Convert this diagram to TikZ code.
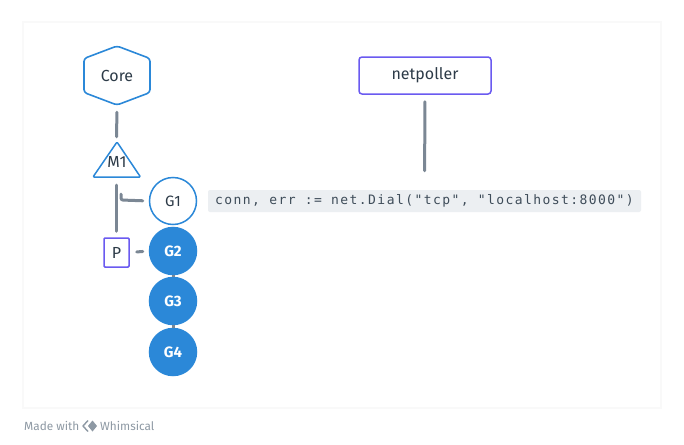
\documentclass[tikz,border=0pt]{standalone}
\usepackage{fontspec}
\setmainfont{Fira Sans}
\newfontfamily\codefont[LetterSpace=11]{DejaVu Sans Mono}
\usetikzlibrary{calc}
\definecolor{wblue}{HTML}{2B88D8}
\definecolor{wpurple}{HTML}{6A5AF0}
\definecolor{wgray}{HTML}{7B8794}
\definecolor{wtext}{HTML}{2D3B48}
\definecolor{wcode}{HTML}{3E4C59}
\definecolor{wcodebg}{HTML}{ECEFF2}
\definecolor{wfoot}{HTML}{8E99A4}
\tikzset{
  link/.style={draw=wgray, line width=3pt, line cap=round},
  ghost/.style={inner sep=0pt, text=wtext, font=\fontsize{16}{18}\selectfont},
  gopen/.style={circle, draw=wblue, line width=1.5pt, fill=white, minimum size=47pt, inner sep=0pt, text=wtext, font=\fontsize{15}{17}\selectfont},
  gfull/.style={circle, draw=wblue, line width=1.5pt, fill=wblue, minimum size=47pt, inner sep=0pt, text=white, font=\fontsize{15}{17}\selectfont\bfseries},
  pbox/.style={draw=wpurple, line width=1.5pt, rounded corners=1pt, inner sep=0pt, text=wtext, font=\fontsize{16}{18}\selectfont},
  foot/.style={anchor=west, inner sep=0pt, text=wfoot, font=\fontsize{11.8}{13}\selectfont},
}
\begin{document}
\begin{tikzpicture}[x=1pt,y=-1pt]
\useasboundingbox (0,0) rectangle (684,444);
% card
\fill[white] (0,0) rectangle (684,444);
\draw[draw=black!2.5, line width=1.2pt, fill=white] (23,22) rectangle (661,408);

% nodes
\node[ghost, minimum width=67pt, minimum height=59pt] (Core) at (117,75.5) {};
\draw[wblue, line width=1.6pt, rounded corners=3pt, line join=round]
  (117,46) -- (150,58.5) -- (150,92.5) -- (117,105) -- (84,92.5) -- (84,58.5) -- cycle;
\node[ghost] at (117,76) {Core};

\node[ghost, minimum width=47pt, minimum height=35pt] (M1) at (116.5,159.5) {};
\draw[wblue, line width=1.5pt, rounded corners=1pt, line join=round]
  (117,142) -- (140.5,177) -- (93,177) -- cycle;
\node[ghost] at (117,162) {M1};

\node[pbox, minimum width=25pt, minimum height=29pt] (P) at (116.5,252.5) {P};

\node[pbox, rounded corners=3pt, minimum width=132pt, minimum height=37pt] (NP) at (425,75.5) {netpoller};

\node[fill=wcodebg, rounded corners=2pt, minimum width=433pt, minimum height=22pt, inner sep=0pt,
  text=wcode, font=\codefont\fontsize{13}{15}\selectfont] (Code) at (424.5,201) {conn, err := net.Dial("tcp", "localhost:8000")};

% connectors
\draw[link, shorten <=7pt, shorten >=5pt] (Core.south) -- (M1.north);
\draw[link, shorten <=8pt, shorten >=6pt] (M1.south) -- (P.north);
\draw[link, shorten <=7pt, shorten >=19pt] (NP.south) -- (Code.north);
\node[gopen] (G1) at (173,201) {G1};
\node[gfull] (G2) at (173,251) {G2};
\node[gfull] (G3) at (173,301) {G3};
\node[gfull] (G4) at (173,352) {G4};
\draw[link, rounded corners=2pt, line join=round, shorten <=6pt] (G1.west) -- (121,200) -- (121,194);
\draw[link, shorten <=7pt, shorten >=6pt] (P.east) -- (G2.west);
\draw[wgray, line width=3pt] (G2.south) -- (G3.north);
\draw[wgray, line width=3pt] (G3.south) -- (G4.north);

% footer
\node[foot] (made) at (24,426) {Made with};
\coordinate (logo) at (91,426);
\fill[wfoot] ($(logo)+(-3,0)$) -- ($(logo)+(1.5,-5.5)$) -- ($(logo)+(6,0)$) -- ($(logo)+(1.5,5.5)$) -- cycle;
\draw[wfoot, line width=1.4pt, line join=round] ($(logo)+(-3,-5.5)$) -- ($(logo)+(-8,0)$) -- ($(logo)+(-3,5.5)$);
\node[foot] (whim) at (100,426) {Whimsical};
\end{tikzpicture}
\end{document}
